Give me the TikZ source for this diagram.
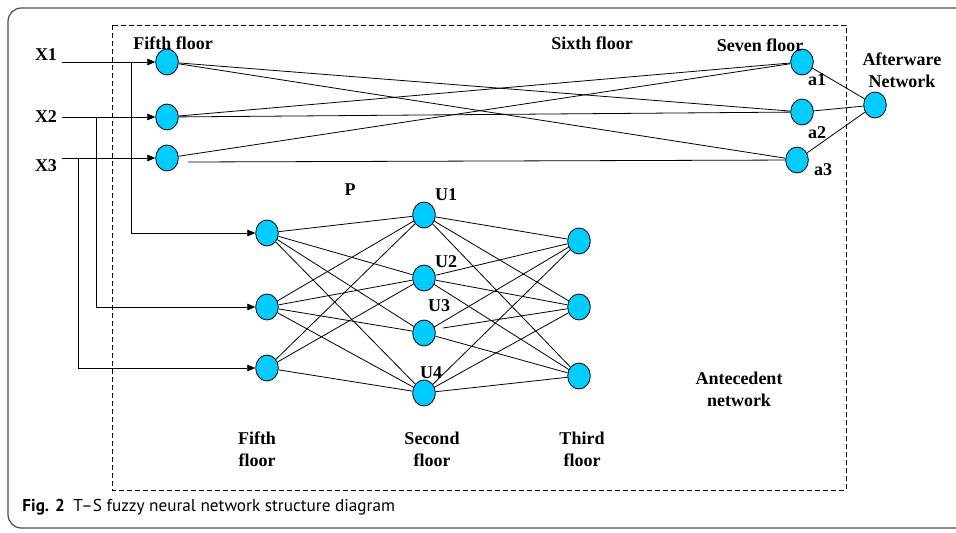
\documentclass[tikz,border=0pt]{standalone}
\usepackage{fontspec}
\setmainfont{Liberation Serif}
\newfontfamily\capfont[Ligatures=TeX]{PT Sans}
\usetikzlibrary{arrows.meta,shapes.geometric}
\definecolor{cellblue}{RGB}{0,204,255}

\begin{document}
\begin{tikzpicture}[x=0.75pt, y=-0.75pt, line width=0.6pt,
  neuron/.style={ellipse, draw, fill=cellblue, inner sep=0pt,
    minimum width=17pt, minimum height=19.5pt},
  lbl/.style={font=\bfseries\fontsize{13.5}{16.5}\selectfont, align=center, inner sep=0pt},
  feed/.style={-{Triangle[length=6pt,width=5pt]}}]
  \useasboundingbox (0,0) rectangle (956,532);

  % frame and dashed box
  \draw[black!70, line width=0.9pt, rounded corners=10pt] (8,8) rectangle (980,528);
  \draw[dash pattern=on 3.75pt off 2.25pt] (112,25) rectangle (846,490);

  % consequent part
  \node[neuron] (i1) at (167,62) {};
  \node[neuron] (i2) at (167,117) {};
  \node[neuron] (i3) at (167,158) {};
  \node[neuron] (a1) at (802,62) {};
  \node[neuron] (a2) at (802,112) {};
  \node[neuron] (a3) at (797,160) {};
  \node[neuron] (out) at (875,105) {};

  % antecedent part
  \node[neuron] (b1) at (267,233) {};
  \node[neuron] (b2) at (267,307) {};
  \node[neuron] (b3) at (267,368) {};
  \node[neuron] (u1) at (424,215) {};
  \node[neuron] (u2) at (424,278) {};
  \node[neuron] (u3) at (424,333) {};
  \node[neuron] (u4) at (424,393) {};
  \node[neuron] (c1) at (579,241) {};
  \node[neuron] (c2) at (579,307) {};
  \node[neuron] (c3) at (579,376) {};

  % labels
  \node[lbl] (xl1) at (46,55) {X1};
  \node[lbl] (xl2) at (46,117) {X2};
  \node[lbl] (xl3) at (46,166) {X3};
  \node[lbl] (f5) at (173,43) {Fifth floor};
  \node[lbl] (f6) at (592,43) {Sixth floor};
  \node[lbl] (f7) at (760,45) {Seven floor};
  \node[lbl] (aw) at (902,70) {Afterware\\Network};
  \node[lbl] (la1) at (817,80) {a1};
  \node[lbl] (la2) at (817,133) {a2};
  \node[lbl] (la3) at (823,170) {a3};
  \node[lbl] (lp) at (350,190) {P};
  \node[lbl] (lu1) at (446,195) {U1};
  \node[lbl] (lu2) at (446,262) {U2};
  \node[lbl] (lu3) at (439,306) {U3};
  \node[lbl] (lu4) at (431,373) {U4};
  \node[lbl] (ant) at (739,389) {Antecedent\\network};
  \node[lbl] (fb1) at (257,449) {Fifth\\floor};
  \node[lbl] (fb2) at (432,449) {Second\\floor};
  \node[lbl] (fb3) at (582,449) {Third\\floor};

  % inputs
  \coordinate (x1) at (62,62);
  \coordinate (x2) at (62,117);
  \coordinate (x3) at (62,158);
  \coordinate (s1) at (131,62);
  \coordinate (s2) at (96,117);
  \coordinate (s3) at (78,158);
  \draw[feed] (x1) -- (i1);
  \draw[feed] (x2) -- (i2);
  \draw[feed] (x3) -- (i3);
  \draw[feed] (s1) |- (b1);
  \draw[feed] (s2) |- (b2);
  \draw[feed] (s3) |- (b3);

  % upper links
  \coordinate (g3) at (188,162);
  \draw (i1) -- (a2);
  \draw (i1) -- (a3);
  \draw (i2) -- (a1);
  \draw (i2) -- (a2);
  \draw (i3) -- (a1);
  \draw (g3) -- (a3);
  \foreach \a in {a1,a2,a3}
    \draw (\a) -- (out);

  % lower links
  \coordinate (g2) at (443,328);
  \foreach \u in {u1,u2,u3,u4} {
    \draw (b1) -- (\u);
    \draw (b2) -- (\u);
  }
  \foreach \u in {u1,u2,u4} {
    \draw (b3) -- (\u);
    \foreach \c in {c1,c2,c3}
      \draw (\u) -- (\c);
  }
  \draw (u3) -- (c1);
  \draw (u3) -- (c3);
  \draw (g2) -- (c2);

  % caption
  \node[anchor=west, inner sep=0pt, font=\capfont\fontsize{12.9}{15}\selectfont] (cap) at (22,507)
    {\textbf{Fig. 2}\hspace{0.5em}T--S fuzzy neural network structure diagram};
\end{tikzpicture}
\end{document}
